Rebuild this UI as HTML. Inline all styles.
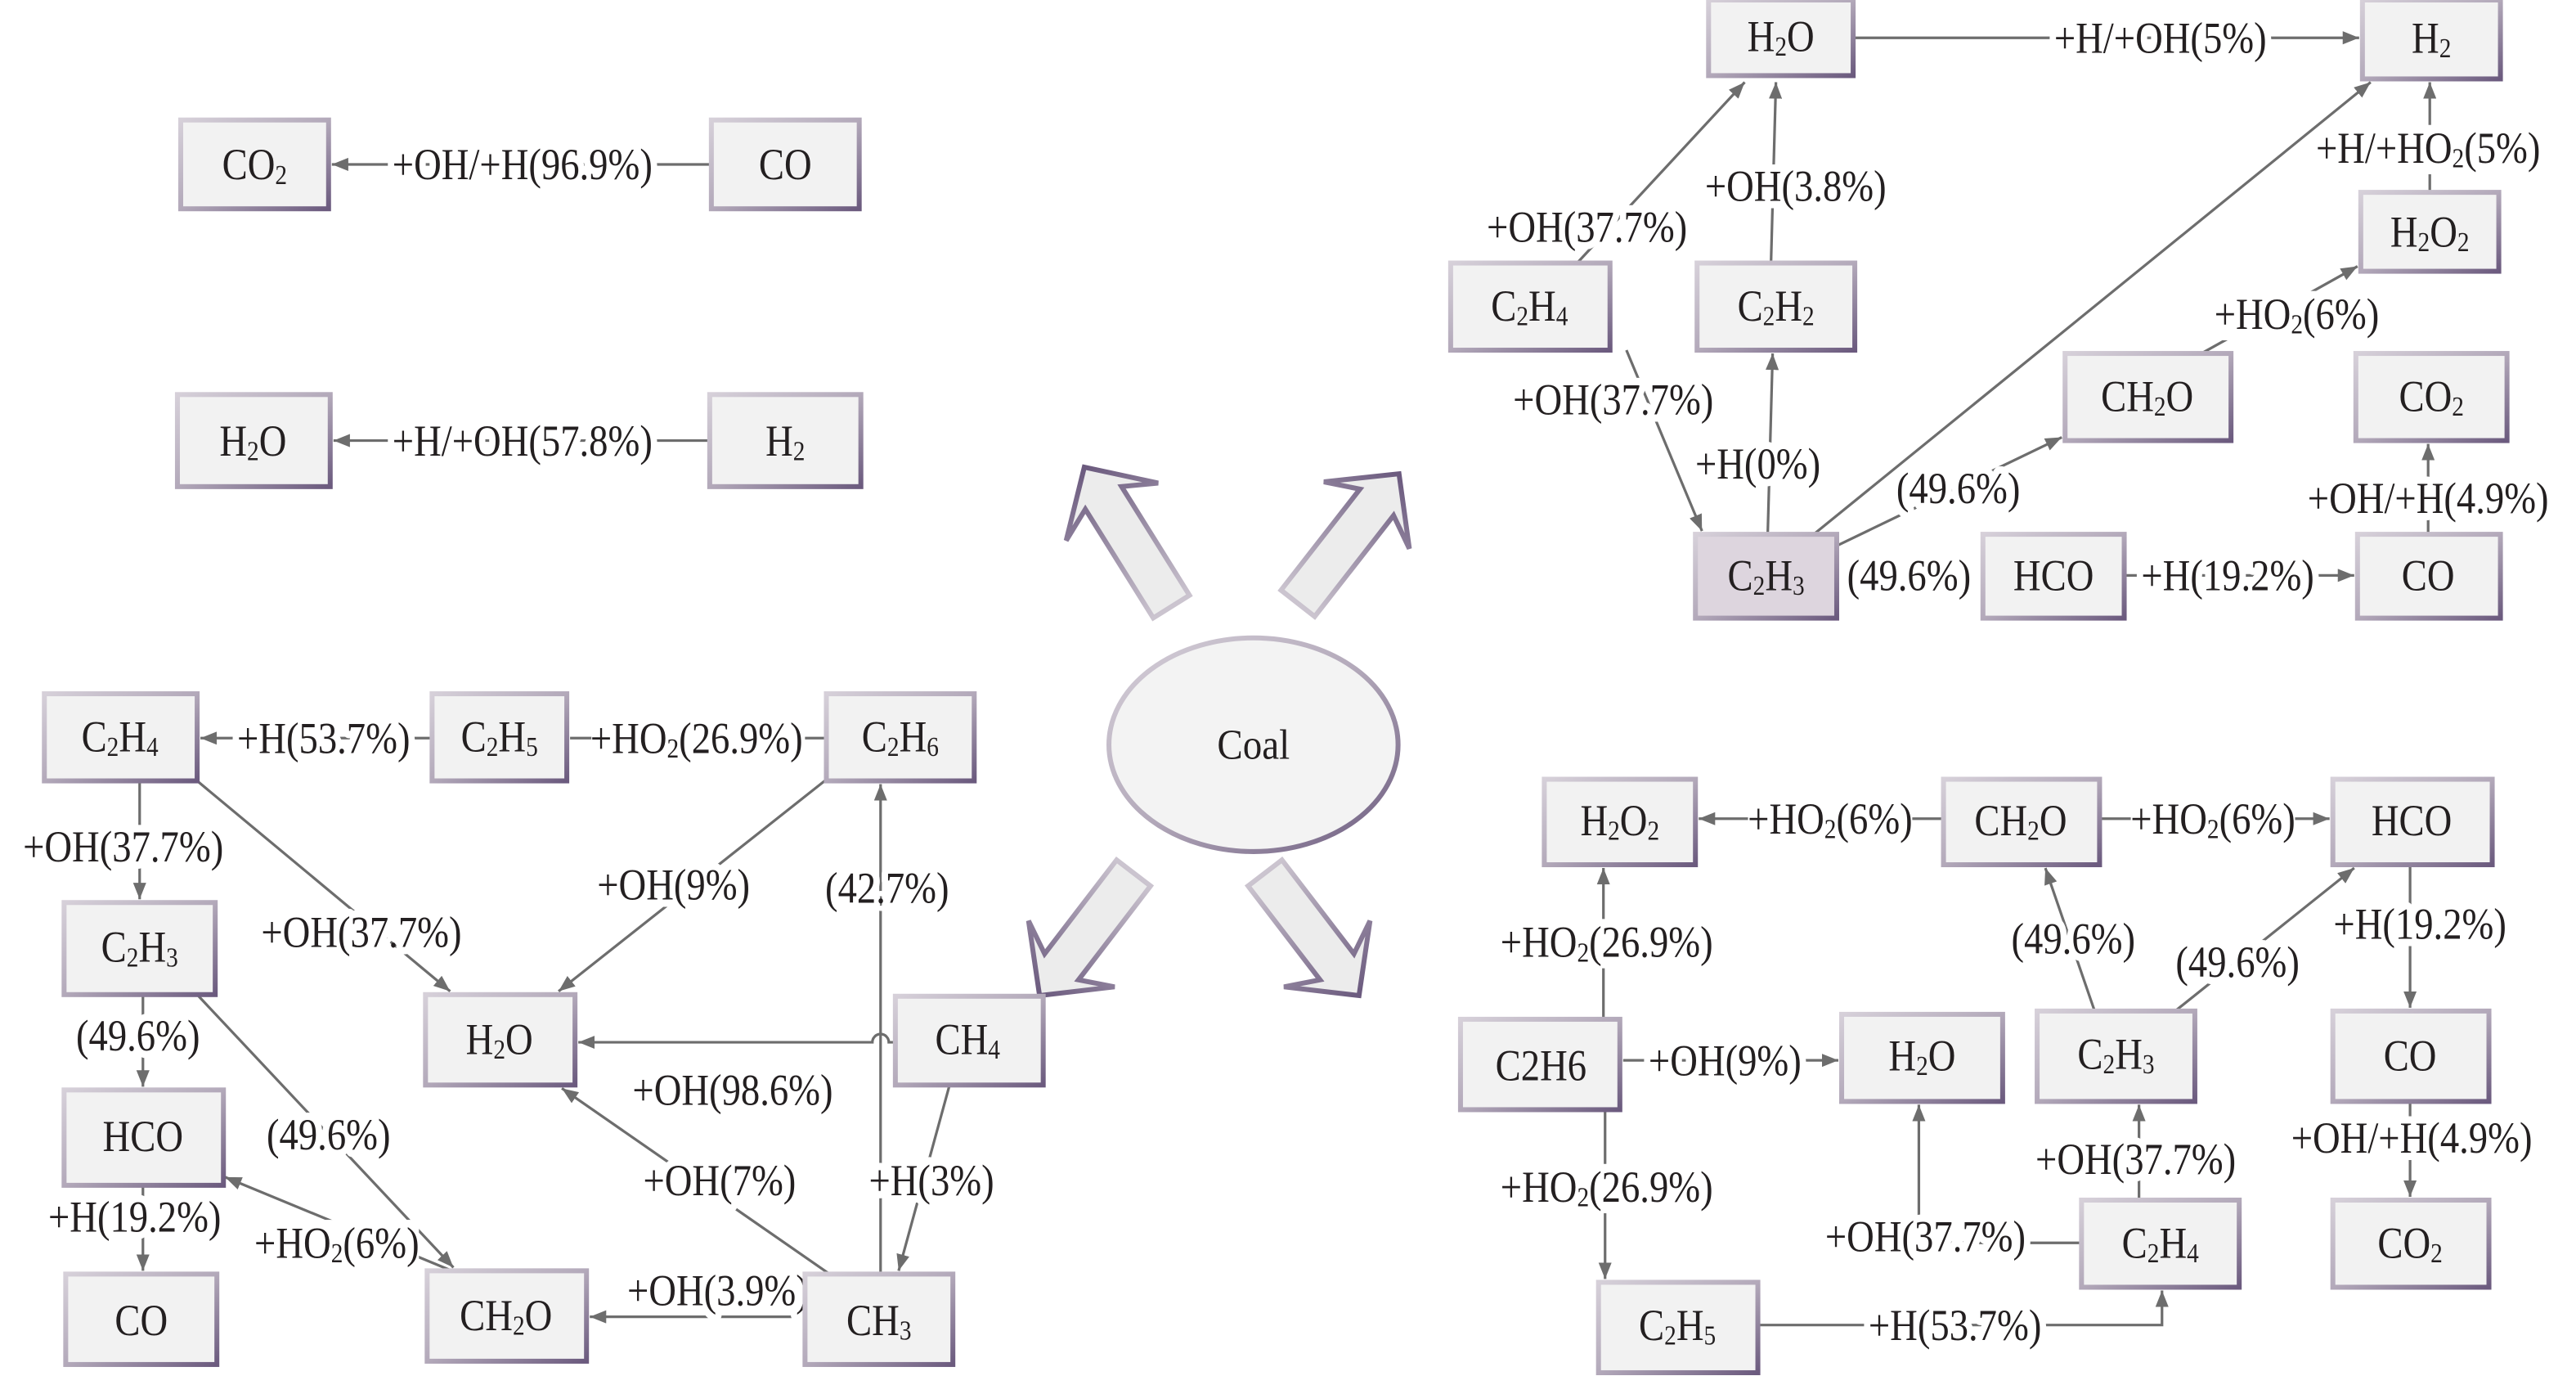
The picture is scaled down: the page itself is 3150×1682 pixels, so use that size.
<!DOCTYPE html>
<html><head><meta charset="utf-8">
<style>
html,body{margin:0;padding:0;background:#fff;}
svg{display:block;}
text{font-family:"Liberation Serif",serif;fill:#231f20;font-size:27px;text-anchor:middle;dominant-baseline:central;transform-box:fill-box;transform-origin:center;transform:scaleX(.86);}
text.l{stroke:#fff;stroke-width:9px;paint-order:stroke;stroke-linejoin:round;}
text.c{font-size:26px;transform:scaleX(.9);}
.s{font-size:17px;}
.w{fill:#fff;}
.b{fill:#f2f2f2;stroke:url(#g);stroke-width:3;}
.ln{stroke:#6d6d6d;stroke-width:1.6;fill:none;}
.ar{fill:#ececec;stroke:url(#g2);stroke-width:3;stroke-linejoin:miter;}
</style></head>
<body>
<svg width="3150" height="1682" viewBox="0 0 1568 837" preserveAspectRatio="none" xmlns="http://www.w3.org/2000/svg">
<defs>
<linearGradient id="g" x1="0" y1="0" x2="1" y2="1">
<stop offset="0" stop-color="#d6d0d9"/><stop offset="0.5" stop-color="#b3a9ba"/><stop offset="1" stop-color="#6b5a7e"/>
</linearGradient>
<linearGradient id="g2" x1="0" y1="0" x2="1" y2="0">
<stop offset="0" stop-color="#cbc4cf"/><stop offset="1" stop-color="#6b5a7e"/>
</linearGradient>
<marker id="m" viewBox="0 0 10 8" refX="10" refY="4" markerWidth="10" markerHeight="8" markerUnits="userSpaceOnUse" orient="auto">
<path d="M0,0 L10,4 L0,8 z" fill="#6d6d6d"/>
</marker>
</defs>

<ellipse cx="763" cy="453" rx="88" ry="65" fill="#f3f3f3" stroke="url(#g)" stroke-width="3"/>
<text x="763" y="453" class="c">Coal</text>
<g transform="translate(713,369) rotate(-122)"><polygon class="ar" points="0,-13 78,-13 68,-33 100,0 68,33 78,13 0,13"/></g>
<g transform="translate(790,367) rotate(-52)"><polygon class="ar" points="0,-13 78,-13 68,-33 100,0 68,33 78,13 0,13"/></g>
<g transform="translate(690,531) rotate(127.5)"><polygon class="ar" points="0,-13 72,-13 62,-33 94,0 62,33 72,13 0,13"/></g>
<g transform="translate(770,531) rotate(52.5)"><polygon class="ar" points="0,-13 72,-13 62,-33 94,0 62,33 72,13 0,13"/></g>

<line class="ln" x1="432" y1="100" x2="202" y2="100" marker-end="url(#m)"/>
<text class="l" x="318" y="100">+OH/+H(96.9%)</text>
<rect class="b" x="110" y="73" width="90" height="54"/>
<text x="155" y="100">CO<tspan class="s" dy="6">2</tspan></text>
<rect class="b" x="433" y="73" width="90" height="54"/>
<text x="478" y="100">CO</text>

<line class="ln" x1="431" y1="268" x2="203" y2="268" marker-end="url(#m)"/>
<text class="l" x="318" y="268">+H/+OH(57.8%)</text>
<rect class="b" x="108" y="240" width="93" height="56"/>
<text x="154" y="268">H<tspan class="s" dy="6">2</tspan><tspan dy="-6">O</tspan></text>
<rect class="b" x="432" y="240" width="92" height="56"/>
<text x="478" y="268">H<tspan class="s" dy="6">2</tspan></text>

<line class="ln" x1="1128" y1="23" x2="1436" y2="23" marker-end="url(#m)"/>
<text class="l" x="1315" y="23">+H/+OH(5%)</text>
<line class="ln" x1="1479" y1="117" x2="1479" y2="50" marker-end="url(#m)"/>
<rect class="w" x="1410" y="76" width="138" height="30"/>
<text x="1478" y="90">+H/+HO<tspan class="s" dy="6">2</tspan><tspan dy="-6">(5%)</tspan></text>
<line class="ln" x1="960" y1="160" x2="1062" y2="50" marker-end="url(#m)"/>
<text class="l" x="966" y="138">+OH(37.7%)</text>
<line class="ln" x1="1078" y1="160" x2="1081" y2="50" marker-end="url(#m)"/>
<text class="l" x="1093" y="113">+OH(3.8%)</text>
<line class="ln" x1="990" y1="213" x2="1036" y2="323" marker-end="url(#m)"/>
<text class="l" x="982" y="243">+OH(37.7%)</text>
<line class="ln" x1="1076" y1="325" x2="1079" y2="215" marker-end="url(#m)"/>
<text class="l" x="1070" y="282">+H(0%)</text>
<line class="ln" x1="1104" y1="325" x2="1443" y2="50" marker-end="url(#m)"/>
<line class="ln" x1="1118" y1="332" x2="1255" y2="266" marker-end="url(#m)"/>
<text class="l" x="1192" y="297">(49.6%)</text>
<line class="ln" x1="1340" y1="215" x2="1435" y2="162" marker-end="url(#m)"/>
<rect class="w" x="1348" y="177" width="100" height="30"/>
<text x="1398" y="191">+HO<tspan class="s" dy="6">2</tspan><tspan dy="-6">(6%)</tspan></text>
<line class="ln" x1="1293" y1="350" x2="1433" y2="350" marker-end="url(#m)"/>
<text class="l" x="1356" y="350">+H(19.2%)</text>
<line class="ln" x1="1478" y1="325" x2="1478" y2="270" marker-end="url(#m)"/>
<text class="l" x="1478" y="303">+OH/+H(4.9%)</text>
<text x="1162" y="350">(49.6%)</text>

<rect class="b" x="1040" y="0" width="88" height="46"/>
<text x="1084" y="22">H<tspan class="s" dy="6">2</tspan><tspan dy="-6">O</tspan></text>
<rect class="b" x="1438" y="0" width="84" height="48"/>
<text x="1480" y="23">H<tspan class="s" dy="6">2</tspan></text>
<rect class="b" x="1437" y="117" width="84" height="48"/>
<text x="1479" y="141">H<tspan class="s" dy="6">2</tspan><tspan dy="-6">O</tspan><tspan class="s" dy="6">2</tspan></text>
<rect class="b" x="883" y="160" width="97" height="53"/>
<text x="931" y="186">C<tspan class="s" dy="6">2</tspan><tspan dy="-6">H</tspan><tspan class="s" dy="6">4</tspan></text>
<rect class="b" x="1033" y="160" width="96" height="53"/>
<text x="1081" y="186">C<tspan class="s" dy="6">2</tspan><tspan dy="-6">H</tspan><tspan class="s" dy="6">2</tspan></text>
<rect class="b" x="1257" y="215" width="101" height="53"/>
<text x="1307" y="241">CH<tspan class="s" dy="6">2</tspan><tspan dy="-6">O</tspan></text>
<rect class="b" x="1434" y="215" width="92" height="53"/>
<text x="1480" y="241">CO<tspan class="s" dy="6">2</tspan></text>
<rect class="b" x="1032" y="325" width="86" height="51" style="fill:#ddd5de"/>
<text x="1075" y="350">C<tspan class="s" dy="6">2</tspan><tspan dy="-6">H</tspan><tspan class="s" dy="6">3</tspan></text>
<rect class="b" x="1207" y="325" width="86" height="51"/>
<text x="1250" y="350">HCO</text>
<rect class="b" x="1435" y="325" width="87" height="51"/>
<text x="1478" y="350">CO</text>

<line class="ln" x1="263" y1="449" x2="122" y2="449" marker-end="url(#m)"/>
<text class="l" x="197" y="449">+H(53.7%)</text>
<line class="ln" x1="503" y1="449" x2="347" y2="449"/>
<rect class="w" x="360" y="435" width="130" height="30"/>
<text x="424" y="449">+HO<tspan class="s" dy="6">2</tspan><tspan dy="-6">(26.9%)</tspan></text>
<line class="ln" x1="85" y1="475" x2="85" y2="547" marker-end="url(#m)"/>
<text class="l" x="75" y="515">+OH(37.7%)</text>
<line class="ln" x1="120" y1="475" x2="274" y2="603" marker-end="url(#m)"/>
<text class="l" x="220" y="567">+OH(37.7%)</text>
<line class="ln" x1="502" y1="475" x2="340" y2="603" marker-end="url(#m)"/>
<text class="l" x="410" y="538">+OH(9%)</text>
<path class="ln" d="M545,634 L541,634 A5,5 0 0 0 531,634 L352,634" marker-end="url(#m)"/>
<line class="ln" x1="536" y1="775" x2="536" y2="477" marker-end="url(#m)"/>
<text class="l" x="540" y="540">(42.7%)</text>
<text class="l" x="446" y="663">+OH(98.6%)</text>
<line class="ln" x1="578" y1="660" x2="547" y2="773" marker-end="url(#m)"/>
<text class="l" x="567" y="718">+H(3%)</text>
<line class="ln" x1="505" y1="775" x2="342" y2="662" marker-end="url(#m)"/>
<text class="l" x="438" y="718">+OH(7%)</text>
<line class="ln" x1="490" y1="801" x2="359" y2="801" marker-end="url(#m)"/>
<text class="l" x="437" y="785">+OH(3.9%)</text>
<line class="ln" x1="87" y1="605" x2="87" y2="661" marker-end="url(#m)"/>
<text class="l" x="84" y="630">(49.6%)</text>
<line class="ln" x1="120" y1="605" x2="276" y2="771" marker-end="url(#m)"/>
<text class="l" x="200" y="690">(49.6%)</text>
<line class="ln" x1="275" y1="773" x2="137" y2="716" marker-end="url(#m)"/>
<rect class="w" x="155" y="742" width="100" height="30"/>
<text x="205" y="756">+HO<tspan class="s" dy="6">2</tspan><tspan dy="-6">(6%)</tspan></text>
<line class="ln" x1="87" y1="721" x2="87" y2="773" marker-end="url(#m)"/>
<text class="l" x="82" y="740">+H(19.2%)</text>

<rect class="b" x="27" y="422" width="93" height="53"/>
<text x="73" y="448">C<tspan class="s" dy="6">2</tspan><tspan dy="-6">H</tspan><tspan class="s" dy="6">4</tspan></text>
<rect class="b" x="263" y="422" width="82" height="53"/>
<text x="304" y="448">C<tspan class="s" dy="6">2</tspan><tspan dy="-6">H</tspan><tspan class="s" dy="6">5</tspan></text>
<rect class="b" x="503" y="422" width="90" height="53"/>
<text x="548" y="448">C<tspan class="s" dy="6">2</tspan><tspan dy="-6">H</tspan><tspan class="s" dy="6">6</tspan></text>
<rect class="b" x="39" y="549" width="92" height="56"/>
<text x="85" y="576">C<tspan class="s" dy="6">2</tspan><tspan dy="-6">H</tspan><tspan class="s" dy="6">3</tspan></text>
<rect class="b" x="259" y="605" width="91" height="55"/>
<text x="304" y="632">H<tspan class="s" dy="6">2</tspan><tspan dy="-6">O</tspan></text>
<rect class="b" x="545" y="606" width="90" height="54"/>
<text x="589" y="632">CH<tspan class="s" dy="6">4</tspan></text>
<rect class="b" x="39" y="663" width="97" height="58"/>
<text x="87" y="691">HCO</text>
<rect class="b" x="40" y="775" width="92" height="55"/>
<text x="86" y="803">CO</text>
<rect class="b" x="260" y="773" width="97" height="55"/>
<text x="308" y="800">CH<tspan class="s" dy="6">2</tspan><tspan dy="-6">O</tspan></text>
<rect class="b" x="490" y="775" width="90" height="55"/>
<text x="535" y="803">CH<tspan class="s" dy="6">3</tspan></text>

<line class="ln" x1="1183" y1="498" x2="1034" y2="498" marker-end="url(#m)"/>
<rect class="w" x="1064" y="484" width="100" height="30"/>
<text x="1114" y="498">+HO<tspan class="s" dy="6">2</tspan><tspan dy="-6">(6%)</tspan></text>
<line class="ln" x1="1278" y1="498" x2="1418" y2="498" marker-end="url(#m)"/>
<rect class="w" x="1297" y="484" width="100" height="30"/>
<text x="1347" y="498">+HO<tspan class="s" dy="6">2</tspan><tspan dy="-6">(6%)</tspan></text>
<line class="ln" x1="976" y1="620" x2="976" y2="528" marker-end="url(#m)"/>
<rect class="w" x="913" y="559" width="130" height="30"/>
<text x="978" y="573">+HO<tspan class="s" dy="6">2</tspan><tspan dy="-6">(26.9%)</tspan></text>
<line class="ln" x1="988" y1="645" x2="1119" y2="645" marker-end="url(#m)"/>
<text class="l" x="1050" y="645">+OH(9%)</text>
<line class="ln" x1="977" y1="675" x2="977" y2="778" marker-end="url(#m)"/>
<rect class="w" x="913" y="708" width="130" height="30"/>
<text x="978" y="722">+HO<tspan class="s" dy="6">2</tspan><tspan dy="-6">(26.9%)</tspan></text>
<path class="ln" d="M1070,806 L1316,806 L1316,785" marker-end="url(#m)"/>
<text class="l" x="1190" y="806">+H(53.7%)</text>
<path class="ln" d="M1267,756 L1168,756 L1168,672" marker-end="url(#m)"/>
<text class="l" x="1172" y="752">+OH(37.7%)</text>
<line class="ln" x1="1302" y1="730" x2="1302" y2="672" marker-end="url(#m)"/>
<text class="l" x="1300" y="705">+OH(37.7%)</text>
<line class="ln" x1="1275" y1="615" x2="1245" y2="528" marker-end="url(#m)"/>
<text class="l" x="1262" y="571">(49.6%)</text>
<line class="ln" x1="1324" y1="615" x2="1433" y2="528" marker-end="url(#m)"/>
<text class="l" x="1362" y="585">(49.6%)</text>
<line class="ln" x1="1467" y1="526" x2="1467" y2="613" marker-end="url(#m)"/>
<text class="l" x="1473" y="562">+H(19.2%)</text>
<line class="ln" x1="1467" y1="670" x2="1467" y2="728" marker-end="url(#m)"/>
<text class="l" x="1468" y="692">+OH/+H(4.9%)</text>

<rect class="b" x="940" y="474" width="92" height="52"/>
<text x="986" y="499">H<tspan class="s" dy="6">2</tspan><tspan dy="-6">O</tspan><tspan class="s" dy="6">2</tspan></text>
<rect class="b" x="1183" y="474" width="95" height="52"/>
<text x="1230" y="499">CH<tspan class="s" dy="6">2</tspan><tspan dy="-6">O</tspan></text>
<rect class="b" x="1420" y="474" width="97" height="52"/>
<text x="1468" y="499">HCO</text>
<rect class="b" x="889" y="620" width="97" height="55"/>
<text x="938" y="648">C2H6</text>
<rect class="b" x="1121" y="617" width="98" height="53"/>
<text x="1170" y="642">H<tspan class="s" dy="6">2</tspan><tspan dy="-6">O</tspan></text>
<rect class="b" x="1240" y="615" width="96" height="55"/>
<text x="1288" y="641">C<tspan class="s" dy="6">2</tspan><tspan dy="-6">H</tspan><tspan class="s" dy="6">3</tspan></text>
<rect class="b" x="1420" y="615" width="95" height="55"/>
<text x="1467" y="642">CO</text>
<rect class="b" x="1267" y="730" width="96" height="53"/>
<text x="1315" y="756">C<tspan class="s" dy="6">2</tspan><tspan dy="-6">H</tspan><tspan class="s" dy="6">4</tspan></text>
<rect class="b" x="1420" y="730" width="95" height="53"/>
<text x="1467" y="756">CO<tspan class="s" dy="6">2</tspan></text>
<rect class="b" x="973" y="780" width="97" height="55"/>
<text x="1021" y="806">C<tspan class="s" dy="6">2</tspan><tspan dy="-6">H</tspan><tspan class="s" dy="6">5</tspan></text>
</svg>
</body></html>
